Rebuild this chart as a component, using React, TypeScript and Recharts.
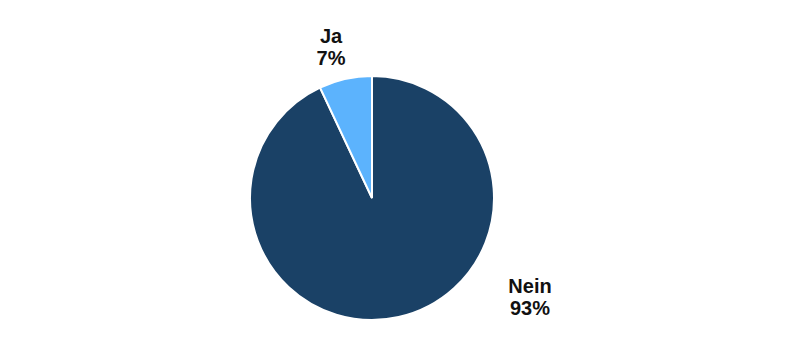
import React from 'react';
import { PieChart, Pie, Cell } from 'recharts';

// Daten
const categories = ['Nein', 'Ja'];
const shares = [93, 7];

const COLORS = ['#1a4166', '#5cb3fd'];

// label anchor (relative to pie centre), first-line baseline
const LABEL_POS: Array<{ dx: number; dy: number }> = [
  { dx: 158, dy: 95 },
  { dx: -41, dy: -155 },
];

const chartData = categories.map((name, i) => ({ name, value: shares[i] }));

function renderLabel(props: any) {
  const { cx, cy, index, name, value } = props;
  const pos = LABEL_POS[index] || { dx: 0, dy: 0 };
  const x = cx + pos.dx;
  const y = cy + pos.dy;
  return (
    <text
      x={x}
      y={y}
      textAnchor="middle"
      fill="#111111"
      fontFamily="'Liberation Sans', Arial, sans-serif"
      fontWeight="bold"
      fontSize={20}
    >
      <tspan x={x} dy={0}>{name}</tspan>
      <tspan x={x} dy={22}>{`${value}%`}</tspan>
    </text>
  );
}

export default function App() {
  return (
    <div style={{ position: 'absolute', left: 0, top: 0, width: 800, height: 356, background: '#fff' }}>
      <PieChart width={800} height={356} margin={{ top: 0, right: 0, bottom: 0, left: 0 }}>
        <Pie
          data={chartData}
          dataKey="value"
          nameKey="name"
          cx={372}
          cy={198}
          outerRadius={122}
          startAngle={90}
          endAngle={-270}
          stroke="#ffffff"
          strokeWidth={2}
          labelLine={false}
          label={renderLabel}
          isAnimationActive={false}
        >
          {chartData.map((entry, index) => (
            <Cell key={`cell-${index}`} fill={COLORS[index % COLORS.length]} />
          ))}
        </Pie>
      </PieChart>
    </div>
  );
}
